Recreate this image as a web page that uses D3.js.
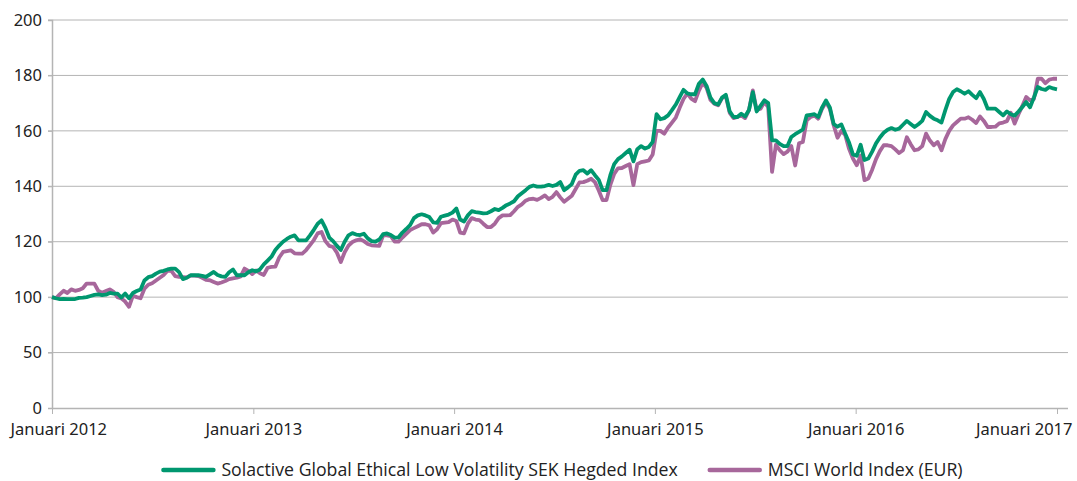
<!DOCTYPE html>
<html>
<head>
<meta charset="utf-8">
<script src="https://cdn.jsdelivr.net/npm/d3@7"></script>
<style>
  body { margin: 0; background: #fff; }
  svg { display: block; }
</style>
</head>
<body>
<div id="chart"></div>
<script>
// Series names and colours
const seriesNames = [
  "Solactive Global Ethical Low Volatility SEK Hegded Index",
  "MSCI World Index (EUR)"
];
const seriesColors = ["#00976f", "#a7679b"];

// Y ticks (non-linear axis, every tick gets the same spacing)
const yTicks = [0, 50, 100, 120, 140, 160, 180, 200];
const xTickYears = [2012, 2013, 2014, 2015, 2016, 2017];

// Weekly values, Jan 2012 - Jan 2017
const solactive = [
  // 2012
  100, 99, 98.3, 98.5, 98.3, 98.3, 98.3, 99.3, 99.5, 100, 100.4, 100.8, 101,
  100.7, 100.9, 101.5, 101.3, 101.3, 99.7, 101.3, 98.9, 101.5, 102.2, 102.8, 106, 107.2,
  107.6, 108.5, 109.2, 109.5, 110, 110.3, 110.3, 109, 106.5, 107, 107.9, 107.9, 107.9,
  107.7, 107.3, 108.2, 109.1, 108, 107.5, 107.3, 109, 110, 107.9, 107.9, 107.9, 109,
  // 2013
  109.7, 109.3, 110, 111.8, 113.2, 114.6, 117, 118.6, 120, 121, 121.8, 122.3, 120.5,
  120.5, 120.5, 122.3, 124.3, 126.5, 127.7, 125, 121.5, 120.2, 118.5, 117, 120, 122.3,
  123.1, 122.6, 122.4, 122.9, 121.2, 120.2, 120, 120.8, 122.7, 123, 122.4, 121.5, 121.6,
  123.3, 124.6, 126, 128.5, 129.5, 129.9, 129.5, 128.9, 127, 126.8, 129, 129.4, 129.8,
  // 2014
  130.5, 132, 128, 127.3, 129.5, 131, 130.7, 130.5, 130.2, 130.3, 131, 131.8, 131.4,
  132.2, 133.2, 133.8, 134.6, 136.4, 137.5, 138.6, 139.8, 140.3, 139.9, 139.9, 140.1, 140.5,
  140.1, 140.5, 141.5, 138.6, 139.6, 140.8, 144.2, 145.6, 145.8, 144.6, 145.8, 144, 142.3,
  138.6, 138.6, 144, 148, 149.8, 150.8, 152, 153.2, 149, 153.4, 154.5, 153.6, 154.2,
  // 2015
  156, 166, 164.2, 164.6, 165.6, 167.5, 169.5, 172.2, 174.8, 173.5, 173.2, 173.2, 177,
  178.5, 176.2, 172, 170, 169.5, 172, 173, 167, 165, 165, 166.2, 165.2, 167.5,
  174, 167, 169, 171, 170, 156.6, 156.6, 155.3, 154.5, 154.5, 157.8, 158.8, 159.6,
  160.5, 165.6, 165.8, 166, 165, 168.5, 171, 168.5, 162.5, 161.5, 162.3, 159, 155.8,
  // 2016
  151.5, 151, 155, 149.5, 150, 152.5, 155.5, 157.6, 159.3, 160.4, 161, 160.4, 160.8,
  162.2, 163.6, 162.5, 161.4, 162.4, 163.6, 166.8, 165.4, 164.4, 163.8, 163, 167.5, 171.5,
  174, 175, 174.3, 173.4, 174.3, 173, 171.8, 174, 171.5, 168, 168, 168, 166.8,
  165.6, 167, 166, 165.5, 167, 168.6, 170.4, 168.5, 172, 175.8, 175.1, 174.8, 175.8,
  // Jan 2017
  175.3, 175
];

const msciWorld = [
  // 2012
  100, 99, 101, 102.3, 101.5, 102.8, 102.3, 102.6, 103.2, 104.9, 104.9, 104.9, 102.3,
  101.6, 102.2, 102.8, 101.9, 100, 98.9, 96, 91.3, 100.5, 100, 99, 103, 104.5,
  105, 106, 107, 108, 109.5, 109.5, 107.6, 107.3, 107.2, 107.1, 107.8, 107.8, 107.6,
  107, 106.2, 106.1, 105.5, 104.9, 105.3, 105.8, 106.5, 106.8, 107, 107.5, 110.3, 109.5,
  // 2013
  108.3, 109.6, 108.6, 108, 110.6, 110.9, 111, 114.3, 116.3, 116.6, 116.9, 115.8, 115.7,
  115.7, 117, 118.8, 120.6, 123, 123.5, 120.2, 118.5, 118.1, 116, 112.7, 116.2, 118.6,
  119.9, 120.5, 120.9, 120.2, 119.2, 118.7, 118.6, 118.5, 122.3, 122.3, 122, 120, 120,
  121.5, 122.8, 124.2, 124.9, 125.6, 126.3, 126.3, 125.9, 123.3, 124.5, 126.7, 126.9, 127.1,
  // 2014
  128, 127.5, 123.3, 123, 126.5, 128.5, 128, 127.8, 126.5, 125.3, 125.3, 126.5, 128.5,
  129.5, 129.5, 129.6, 131, 132.6, 133.5, 134.8, 135.4, 135.5, 135.1, 135.8, 136.7, 135.4,
  136.2, 137.9, 136, 134.4, 135.5, 136.6, 139, 141.4, 141.5, 142, 142.7, 141.5, 138.5,
  135, 135, 140.5, 144.5, 146.5, 146.6, 147.3, 148, 140.4, 148, 148.7, 149, 149.3,
  // 2015
  151.5, 160, 160, 159, 161.2, 163, 164.8, 168.3, 171.5, 173.5, 171.6, 170.7, 174.5,
  177.4, 175.5, 171.2, 169.8, 169.2, 171.8, 172.5, 166.5, 164.6, 165, 165.6, 164.6, 167.5,
  174.6, 167.5, 168, 170.4, 168.6, 145.2, 155, 153, 151.6, 152.5, 154.5, 147.5, 155.5,
  156, 163.8, 165, 165.5, 164.4, 168, 170.4, 168, 162, 157.5, 160, 158.5, 153.5,
  // 2016
  150, 147.6, 151, 142.2, 142.8, 146, 149.8, 152.7, 154.8, 154.8, 154.5, 153.3, 152,
  153, 157.7, 155.2, 153, 153.3, 154.5, 159, 156.5, 154.8, 156, 153, 157, 160,
  162, 163.2, 164.4, 164.4, 164.9, 164, 162.8, 165.2, 163.6, 161.4, 161.4, 161.5, 162.7,
  163, 163.5, 166.5, 162.6, 166, 169, 172.2, 171, 171.5, 178.8, 178.8, 177.2, 178.5,
  // Jan 2017
  178.8, 178.8
];

// One date per week (Sundays from 1 Jan 2012 to 1 Jan 2017)
const weeks = d3.timeWeek.range(new Date(2012, 0, 1), new Date(2017, 0, 2));

const width = 1077,
      height = 481;
const margin = {top: 20, right: 9, bottom: 73, left: 52};
const plotRight = width - margin.right;
const plotBottom = height - margin.bottom;
const axisFont = "16.5px 'Noto Sans', sans-serif";

const svg = d3.select("#chart")
  .append("svg")
  .attr("width", width)
  .attr("height", height);

const x = d3.scaleTime()
  .domain([new Date(2012, 0, 1), new Date(2017, 0, 1)])
  .range([margin.left, 1057]);

// equal spacing for each tick value
const step = (plotBottom - margin.top) / (yTicks.length - 1);
const y = d3.scaleLinear()
  .domain(yTicks)
  .range(yTicks.map((d, i) => plotBottom - i * step));

// grid lines
svg.append("g")
  .selectAll("line")
  .data(yTicks.filter(d => d > 0))
  .join("line")
    .attr("x1", margin.left - 4)
    .attr("x2", plotRight)
    .attr("y1", d => y(d))
    .attr("y2", d => y(d))
    .attr("stroke", "#b4b4b4")
    .attr("stroke-width", 1);

// y axis
const yAxis = svg.append("g")
  .attr("transform", `translate(${margin.left},0)`)
  .call(d3.axisLeft(y).tickValues(yTicks).tickSize(4).tickPadding(6));
yAxis.select(".domain").attr("stroke", "#b4b4b4").attr("stroke-width", 1.5);
yAxis.selectAll(".tick line").attr("stroke", "#b4b4b4");
yAxis.selectAll("text")
  .attr("fill", "#222")
  .style("font", axisFont);

// x axis
const xAxis = svg.append("g")
  .attr("transform", `translate(0,${plotBottom})`)
  .call(d3.axisBottom(x)
    .tickValues(xTickYears.map(yr => new Date(yr, 0, 1)))
    .tickFormat(d => "Januari " + d.getFullYear())
    .tickSizeInner(6)
    .tickSizeOuter(0)
    .tickPadding(5));
xAxis.select(".domain")
  .attr("d", `M${margin.left},0.5H${plotRight}`)
  .attr("stroke", "#b4b4b4")
  .attr("stroke-width", 1.5);
xAxis.selectAll(".tick line").attr("stroke", "#b4b4b4");
xAxis.selectAll("text")
  .attr("fill", "#222")
  .attr("y", 15)
  .style("font", axisFont);

// keep the first and last labels inside the picture
const xLabels = xAxis.selectAll(".tick text");
const nLabels = xLabels.size();
xLabels.each(function(d, i) {
  const t = d3.select(this);
  if (i === 0) {
    t.attr("text-anchor", "start").attr("x", 10 - x(d));
  } else if (i === nLabels - 1) {
    t.attr("text-anchor", "end").attr("x", 1072 - x(d));
  }
});

// lines
const line = d3.line()
  .x((d, i) => x(weeks[i]))
  .y(d => y(d));

// MSCI drawn first, Solactive on top
[[msciWorld, seriesColors[1]], [solactive, seriesColors[0]]].forEach(([vals, col]) => {
  svg.append("path")
    .datum(vals)
    .attr("fill", "none")
    .attr("stroke", col)
    .attr("stroke-width", 3.8)
    .attr("stroke-linejoin", "round")
    .attr("d", line);
});

// legend
const legend = svg.append("g");
const legendY = 470;
const swatch = 50;
let cursor = 0;
seriesNames.forEach((name, i) => {
  const g = legend.append("g");
  g.append("line")
    .attr("x1", 0).attr("x2", swatch)
    .attr("y1", 0).attr("y2", 0)
    .attr("stroke", seriesColors[i])
    .attr("stroke-width", 4.5)
    .attr("stroke-linecap", "round");
  const t = g.append("text")
    .attr("x", swatch + 8)
    .attr("y", 6)
    .attr("fill", "#222")
    .style("font", "17.7px 'Liberation Sans Narrow', 'Open Sans', sans-serif")
    .text(name);
  const w = swatch + 8 + t.node().getComputedTextLength();
  g.attr("transform", `translate(${cursor},${legendY})`);
  cursor += w + 32;
});
const legendWidth = cursor - 32;
legend.attr("transform", `translate(${563 - legendWidth / 2},0)`);
</script>
</body>
</html>
